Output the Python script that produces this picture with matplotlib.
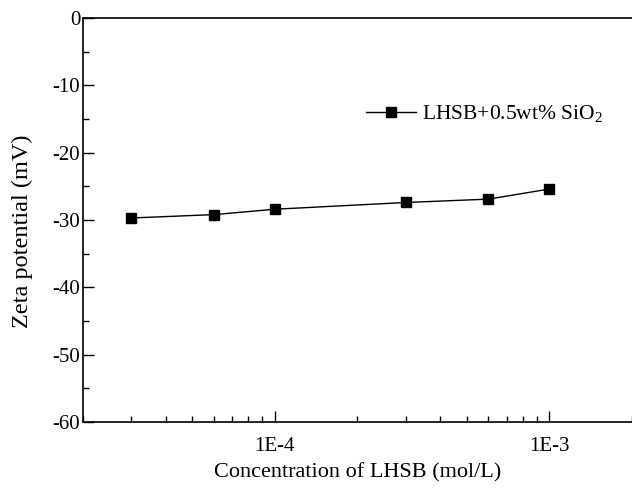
import numpy as np
import matplotlib.pyplot as plt
from matplotlib.ticker import FixedLocator, LogLocator, NullFormatter, FixedFormatter

plt.rcParams['font.family'] = 'Liberation Serif'
plt.rcParams['mathtext.fontset'] = 'custom'
plt.rcParams['mathtext.rm'] = 'Liberation Serif'
plt.rcParams['axes.unicode_minus'] = False

# concentration (mol/L) and zeta potential (mV)
conc = [3e-5, 6e-5, 1e-4, 3e-4, 6e-4, 1e-3]
zeta = [-29.7, -29.2, -28.4, -27.4, -26.9, -25.4]
x_ticks = [1e-4, 1e-3]
x_tick_labels = ['1E-4', '1E-3']

fig = plt.figure(figsize=(6.32, 4.92), dpi=100)
ax = fig.add_axes([0.1313, 0.1423, 0.8687, 0.8211])

ax.plot(conc, zeta, color='black', lw=1, marker='s', ms=7,
        label='LHSB+0.5wt% SiO$_2$')

ax.set_xscale('log')
ax.set_xlim(2e-5, 2e-3)
ax.set_ylim(-60, 0)
ax.xaxis.set_major_locator(FixedLocator(x_ticks))
ax.xaxis.set_major_formatter(FixedFormatter(x_tick_labels))
ax.xaxis.set_minor_locator(LogLocator(base=10, subs=np.arange(2, 10)))
ax.xaxis.set_minor_formatter(NullFormatter())
ax.set_yticks(np.arange(-60, 1, 10))
ax.set_yticks(np.arange(-55, 0, 10), minor=True)

ax.tick_params(which='both', direction='in', top=False, right=False, labelsize=15)
ax.tick_params(which='major', length=8, width=1)
ax.tick_params(which='minor', length=4, width=1)
ax.tick_params(axis='x', which='major', pad=11)
ax.tick_params(axis='y', which='major', pad=2)
ax.spines['right'].set_visible(False)
for s in ax.spines.values():
    s.set_linewidth(1.2)

ax.set_xlabel('Concentration of LHSB (mol/L)', fontsize=16, labelpad=5)
ax.set_ylabel('Zeta potential (mV)', fontsize=17.5)
ax.yaxis.set_label_coords(-0.091, 0.473)

ax.legend(loc='center left', bbox_to_anchor=(0.50, 0.762), frameon=False,
          fontsize=15.5, handlelength=2.3, handletextpad=0.3, borderaxespad=0)

fig.savefig('out.png', dpi=100)
